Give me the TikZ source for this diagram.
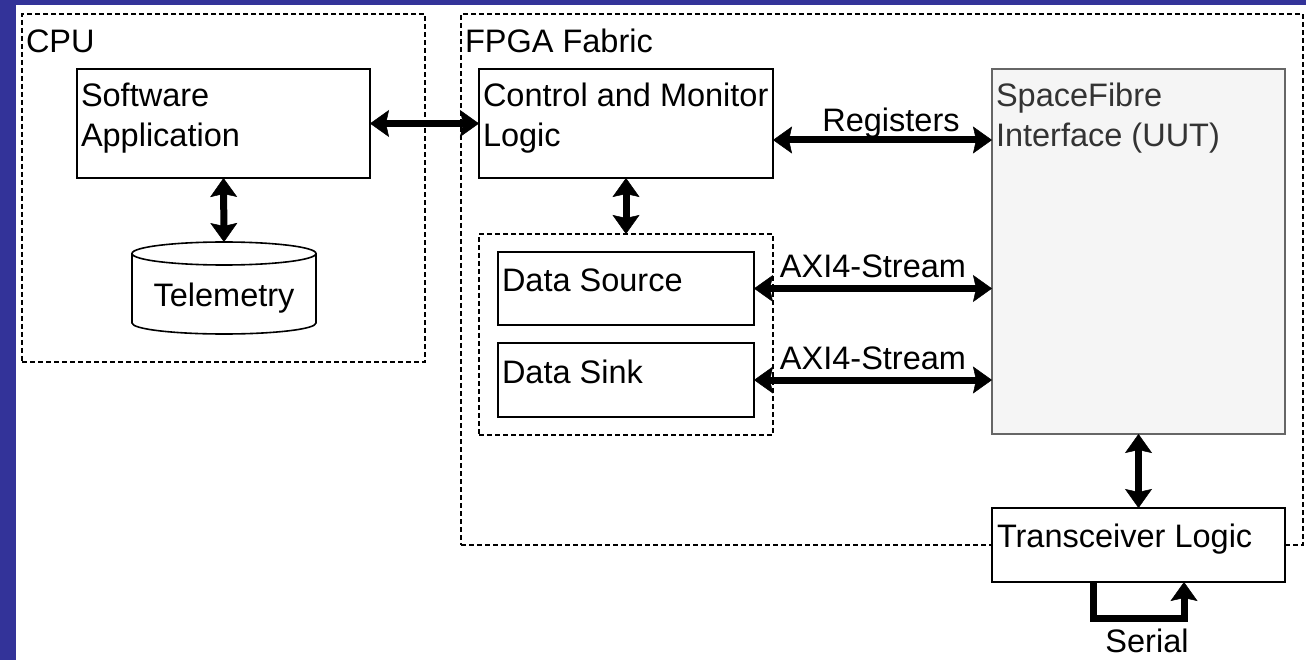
\documentclass[tikz,border=0pt]{standalone}
\usepackage{fontspec}
\setmainfont{Liberation Sans}
\usetikzlibrary{arrows.meta,calc}
\definecolor{pageframe}{RGB}{51,51,153}
\definecolor{uutfill}{HTML}{F5F5F5}
\definecolor{uutline}{HTML}{666666}
\definecolor{uuttext}{HTML}{333333}
\begin{document}
\begin{tikzpicture}[x=1pt,y=-1pt,
  every node/.style={inner sep=0pt, outer sep=0pt},
  font=\fontsize{32.5}{40}\selectfont,
  block/.style={draw=black, line width=1.6pt, fill=white, rectangle},
  region/.style={draw=black, line width=1.5pt, dash pattern=on 5pt off 3pt, rectangle},
  txt/.style={anchor=base west, align=left},
  conn/.style={line width=7pt, draw=black},
  >={Stealth[length=19pt,width=27pt,inset=3pt,line width=0.5pt]}
]
% page background and frame band
\useasboundingbox (0,0) rectangle (1306,660);
\fill[white] (0,0) rectangle (1306,660);
\fill[pageframe] (0,0) rectangle (16,660);
\fill[pageframe] (0,0) rectangle (1306,5);

% dashed groupings
\node[region, minimum width=403, minimum height=348] (cpu) at (223.5,188) {};
\node[region, minimum width=842, minimum height=531] (fpga) at (882,279.5) {};
\node[txt] (cpulbl) at (26,53) {CPU};
\node[txt] (fpgalbl) at (465,53) {FPGA Fabric};

% CPU side (two-line texts are placed by their last baseline)
\node[block, minimum width=293, minimum height=109] (swapp) at (223.5,123.5) {};
\node[txt] (swapptxt) at (81,147) {Software\\Application};

% telemetry store (cylinder)
\coordinate (teletop) at (224,242);
\draw[line width=1.6pt, fill=white]
  (132,253.5) -- (132,323) arc[start angle=180, end angle=0, x radius=92, y radius=11]
  -- (316,253.5);
\draw[line width=1.6pt] (224,253.5) ellipse[x radius=92, y radius=11.5];
\node[anchor=base] (tele) at (224,306) {Telemetry};

% FPGA side
\node[block, minimum width=294, minimum height=109] (cml) at (626,123.5) {};
\node[txt] (cmltxt) at (483,147) {Control and Monitor\\Logic};

\node[region, minimum width=294, minimum height=201] (grp) at (626,334.5) {};
\node[block, minimum width=256, minimum height=73] (dsrc) at (626,288.5) {};
\node[txt] (dsrctxt) at (502,291) {Data Source};
\node[block, minimum width=256, minimum height=74] (dsnk) at (626,380) {};
\node[txt] (dsnktxt) at (502,383) {Data Sink};

\node[block, draw=uutline, fill=uutfill, minimum width=293, minimum height=365] (sfi) at (1138.5,251.5) {};
\node[txt, text=uuttext] (sfitxt) at (996,147) {SpaceFibre\\Interface (UUT)};

\node[block, minimum width=293, minimum height=74] (trx) at (1138.5,545) {};
\node[txt] (trxtxt) at (997,547) {Transceiver Logic};

% connectors
\coordinate (regy) at (0,140);
\draw[conn, <->] (swapp.east) -- (cml.west);
\draw[conn, <->] (swapp.south) -- (teletop);
\draw[conn, <->] (cml.south) -- (grp.north);
\draw[conn, <->] (cml.east |- regy) -- (sfi.west |- regy);
\draw[conn, <->] (dsrc.east) -- (sfi.west |- dsrc.east);
\draw[conn, <->] (dsnk.east) -- (sfi.west |- dsnk.east);
\draw[conn, <->] (sfi.south) -- (trx.north);
\draw[conn, ->, line join=miter] ($(trx.south)+(-45.5,0)$) -- ++(0,36) -| ($(trx.south)+(45.5,0)$);

% connector labels
\node[anchor=base] (reglbl) at (891,132) {Registers};
\node[anchor=base] (axi1lbl) at (873,278) {AXI4-Stream};
\node[anchor=base] (axi2lbl) at (873,369) {AXI4-Stream};
\node[anchor=base] (serlbl) at (1147,652) {Serial};
\end{tikzpicture}
\end{document}
